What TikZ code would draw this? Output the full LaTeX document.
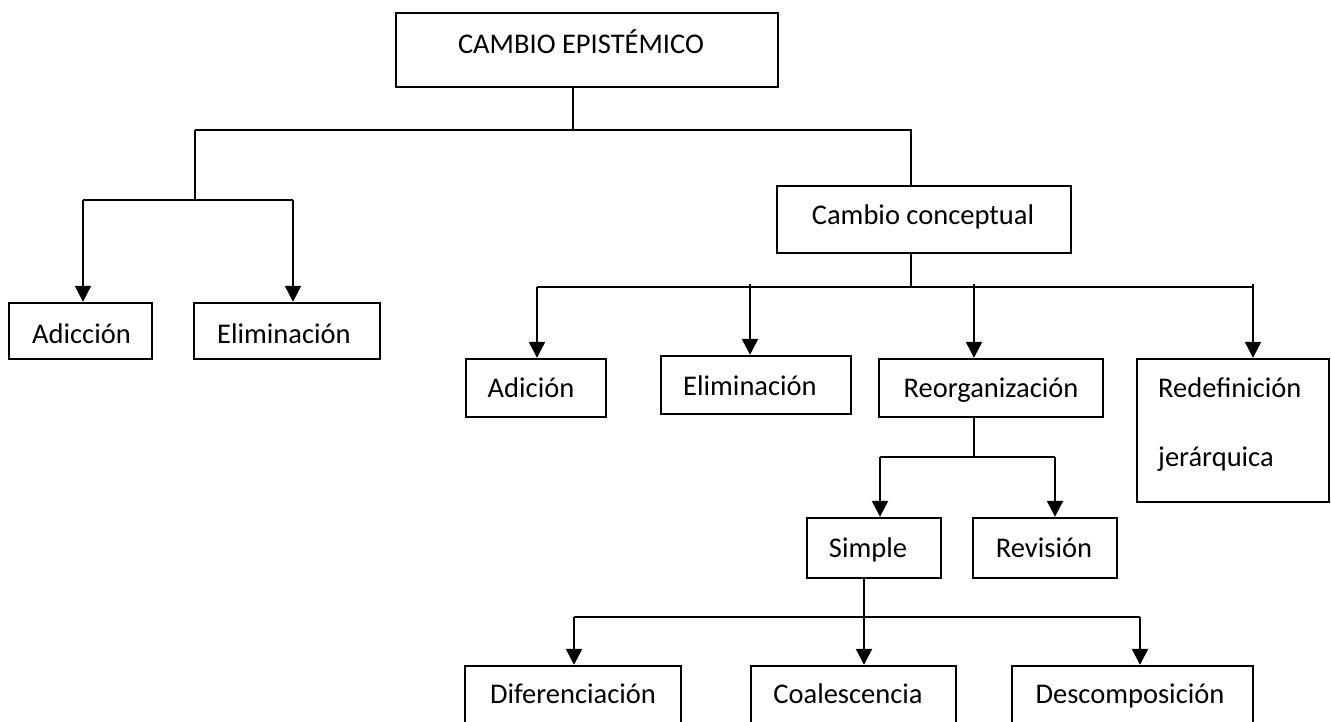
\documentclass[tikz,border=0pt]{standalone}
\usepackage{fontspec}
\setmainfont{Carlito}
\usetikzlibrary{arrows.meta}
\tikzset{
  box/.style={draw, line width=2.4pt, inner sep=0pt, rectangle},
  txt/.style={inner sep=0pt, anchor=base, font=\fontsize{28.5}{34}\selectfont},
  link/.style={line width=2.4pt},
  thinlink/.style={line width=1.5pt},
  arr/.style={line width=2.4pt, -{Triangle[width=16pt,length=16pt]}}
}
\begin{document}
\begin{tikzpicture}[x=1pt, y=-1pt]
\useasboundingbox (0,0) rectangle (1331,721);
\clip (0,0) rectangle (1331,721);
\fill[white] (0,0) rectangle (1331,721);

% boxes
\node[box, minimum width=382pt, minimum height=74pt] (cambio) at (587,50) {};
\node[box, minimum width=143pt, minimum height=56pt] (adiccion) at (80.5,331) {};
\node[box, minimum width=186pt, minimum height=56pt] (elimA) at (287,331) {};
\node[box, minimum width=294pt, minimum height=67pt] (concept) at (924,219.5) {};
\node[box, minimum width=140pt, minimum height=58pt] (adicion) at (536,388) {};
\node[box, minimum width=190pt, minimum height=58pt] (elimB) at (756,385) {};
\node[box, minimum width=224pt, minimum height=58pt] (reorg) at (991,388) {};
\node[box, minimum width=192pt, minimum height=143pt] (redef) at (1233,430.5) {};
\node[box, minimum width=134pt, minimum height=60pt] (simple) at (874,548) {};
\node[box, minimum width=144pt, minimum height=60pt] (revision) at (1045,548) {};
\node[box, minimum width=216pt, minimum height=62pt] (dif) at (573,697) {};
\node[box, minimum width=205pt, minimum height=62pt] (coal) at (853.5,697) {};
\node[box, minimum width=241pt, minimum height=62pt] (desc) at (1132.5,697) {};

% labels
\node[txt] (cambio-t) at (581,53) {CAMBIO EPISTÉMICO};
\node[txt] (adiccion-t) at (81.5,343) {Adicción};
\node[txt] (elimA-t) at (284,343) {Eliminación};
\node[txt] (concept-t) at (923,224) {Cambio conceptual};
\node[txt] (adicion-t) at (531,397) {Adición};
\node[txt] (elimB-t) at (750,395) {Eliminación};
\node[txt] (reorg-t) at (991,397) {Reorganización};
\node[txt, anchor=base west] (redef-t1) at (1158,397) {Redefinición};
\node[txt, anchor=base west] (redef-t2) at (1158,466) {jerárquica};
\node[txt] (simple-t) at (868,557) {Simple};
\node[txt] (revision-t) at (1044,557) {Revisión};
\node[txt] (dif-t) at (573,703) {Diferenciación};
\node[txt] (coal-t) at (848,703) {Coalescencia};
\node[txt] (desc-t) at (1130,703) {Descomposición};

% junction points
\coordinate (j0) at (573,130);
\coordinate (jL) at (195,130);
\coordinate (jR) at (911,130);
\coordinate (pA) at (83,200);
\coordinate (pB) at (293,200);
\coordinate (jL2) at (195,200);
\coordinate (qA) at (537,287);
\coordinate (qM) at (911,287);
\coordinate (qB) at (750,284);
\coordinate (qC) at (974,284);
\coordinate (qD) at (1253,284);
\coordinate (qE) at (1253,287);
\coordinate (rM) at (974,457);
\coordinate (rA) at (880,457);
\coordinate (rB) at (1055,457);
\coordinate (sM) at (864,617);
\coordinate (sA) at (574,617);
\coordinate (sB) at (1140,617);

% top level
\draw[thinlink] (j0 |- cambio.south) -- (j0);
\draw[link] (jL) -- (jR) -- (jR |- concept.north);
\draw[link] (jL) -- (jL2);
\draw[link] (pA) -- (pB);
\draw[arr] (pA) -- (pA |- adiccion.north);
\draw[arr] (pB) -- (pB |- elimA.north);

% conceptual change
\draw[link] (qM |- concept.south) -- (qM);
\draw[link] (qA) -- (qE);
\draw[arr] (qA) -- (qA |- adicion.north);
\draw[arr] (qB) -- (qB |- elimB.north);
\draw[arr] (qC) -- (qC |- reorg.north);
\draw[arr] (qD) -- (qD |- redef.north);

% reorganization
\draw[thinlink] (rM |- reorg.south) -- (rM);
\draw[link] (rA) -- (rB);
\draw[arr] (rA) -- (rA |- simple.north);
\draw[arr] (rB) -- (rB |- revision.north);

% simple
\draw[link] (sA) -- (sB);
\draw[arr] (sM |- simple.south) -- (sM |- coal.north);
\draw[arr] (sA) -- (sA |- dif.north);
\draw[arr] (sB) -- (sB |- desc.north);
\end{tikzpicture}
\end{document}
